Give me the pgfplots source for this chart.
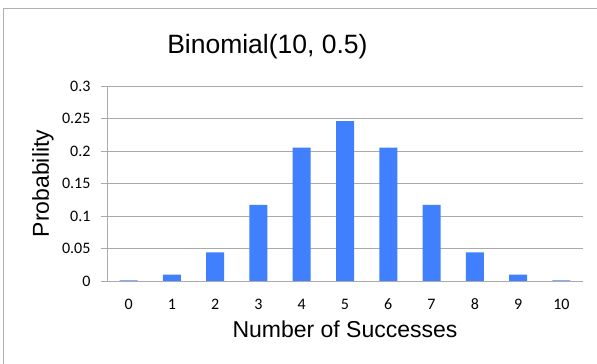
\documentclass[border=0pt]{standalone}
\usepackage{pgfplots}
\pgfplotsset{compat=1.18}
\usepackage{fontspec}
\setmainfont{Liberation Sans}
\newfontfamily\tickfont{Carlito}
\definecolor{barblue}{RGB}{64,128,255}
\definecolor{gridgray}{RGB}{170,170,170}
\definecolor{framegray}{RGB}{175,175,175}
\begin{document}
\begin{tikzpicture}[x=1pt,y=1pt]
\useasboundingbox (0,0) rectangle (597,364);
\fill[white] (0,0) rectangle (597,364);
\draw[framegray, line width=0.8pt] (3,-5) -- (3,356) -- (602,356);
\begin{axis}[
  at={(107pt,83pt)}, anchor=south west,
  scale only axis, width=476pt, height=195pt,
  xmin=-0.5, xmax=10.5, ymin=0, ymax=0.3,
  axis x line=bottom, axis y line=left,
  axis line style={-, gridgray, line width=0.8pt},
  xtick={0,1,2,3,4,5,6,7,8,9,10},
  xticklabels={0,1,2,3,4,5,6,7,8,9,10},
  major x tick style={draw=none},
  extra x ticks={-0.5,0.5,1.5,2.5,3.5,4.5,5.5,6.5,7.5,8.5,9.5,10.5},
  extra x tick labels={},
  extra x tick style={major tick length=6pt, tick style={gridgray, line width=0.8pt}, tick align=outside, grid=none},
  ytick={0,0.05,0.1,0.15,0.2,0.25,0.3},
  yticklabels={0,0.05,0.1,0.15,0.2,0.25,0.3},
  ymajorgrids, major grid style={gridgray, line width=0.8pt},
  y tick style={gridgray, line width=0.8pt}, major tick length=6pt, tick align=outside,
  ticklabel style={font=\tickfont\fontsize{16}{18}\selectfont, text=black},
  xticklabel style={anchor=center, yshift=-17pt},
  yticklabel style={anchor=east, xshift=-7pt},
  xlabel={Number of Successes}, ylabel={Probability},
  xlabel style={font=\fontsize{23}{26}\selectfont, at={(rel axis cs:0.5,-0.246)}, anchor=center},
  ylabel style={font=\fontsize{23}{26}\selectfont, at={(rel axis cs:-0.1345,0.5)}, anchor=center},
  title={Binomial(10, 0.5)},
  title style={font=\fontsize{26.5}{30}\selectfont, at={(rel axis cs:0.337,1)}, anchor=south, yshift=17pt},
  clip=false,
]
\addplot[ybar, bar width=18pt, fill=barblue, draw=none] coordinates {
(0,0.000977) (1,0.00977) (2,0.0439) (3,0.1172) (4,0.2051) (5,0.2461)
(6,0.2051) (7,0.1172) (8,0.0439) (9,0.00977) (10,0.000977)};
\end{axis}
\end{tikzpicture}
\end{document}
